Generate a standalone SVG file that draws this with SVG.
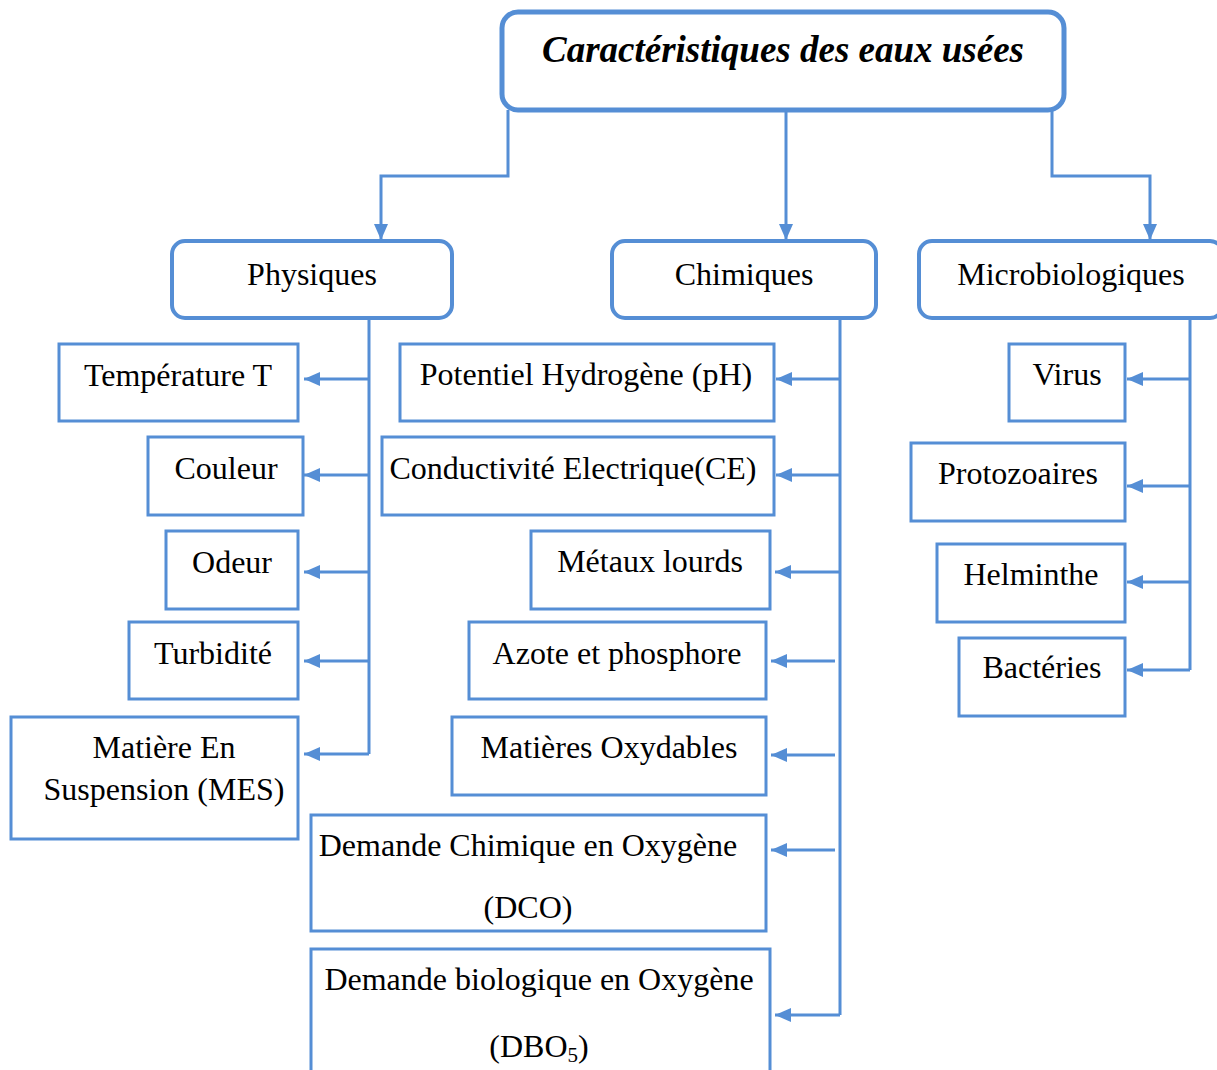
<svg xmlns="http://www.w3.org/2000/svg" width="1217" height="1070" viewBox="0 0 1217 1070">
<style>
.top{fill:#fff;stroke:#558ED5;stroke-width:5}
.cat{fill:#fff;stroke:#558ED5;stroke-width:4}
.item{fill:#fff;stroke:#558ED5;stroke-width:3}
.t{font-family:"Liberation Serif","Times New Roman",serif;font-size:32px;fill:#000;text-anchor:middle}
.title{font-family:"Liberation Serif","Times New Roman",serif;font-size:37px;font-weight:bold;font-style:italic;fill:#000;text-anchor:middle}
.c{fill:none;stroke:#558ED5;stroke-width:3}
.a{fill:none;stroke:#558ED5;stroke-width:3;marker-end:url(#ah)}
</style>
<defs>
<marker id="ah" markerUnits="userSpaceOnUse" markerWidth="16" markerHeight="14" viewBox="0 0 16 14" refX="16" refY="7" orient="auto">
<path d="M0,0 L16,7 L0,14 z" fill="#558ED5"/>
</marker>
</defs>
<rect width="1217" height="1070" fill="#fff"/>
<g id="connectors">
<path class="a" d="M508,110 V176 H381 V240"/>
<path class="a" d="M786,110 V240"/>
<path class="a" d="M1052,110 V176 H1150 V240"/>
<path class="c" d="M369,318 V754"/>
<path class="a" d="M369,379 H304"/>
<path class="a" d="M369,475 H304"/>
<path class="a" d="M369,572 H304"/>
<path class="a" d="M369,661 H304"/>
<path class="a" d="M369,754 H304"/>
<path class="c" d="M840,318 V1015"/>
<path class="a" d="M840,379 H776"/>
<path class="a" d="M840,475 H776"/>
<path class="a" d="M840,572 H775"/>
<path class="a" d="M835,661 H771"/>
<path class="a" d="M835,755 H771"/>
<path class="a" d="M835,850 H771"/>
<path class="a" d="M840,1015 H775"/>
<path class="c" d="M1190,318 V670"/>
<path class="a" d="M1190,379 H1127"/>
<path class="a" d="M1190,486 H1127"/>
<path class="a" d="M1190,582 H1127"/>
<path class="a" d="M1190,670 H1127"/>
</g>
<g id="root"><rect class="top" x="502" y="12" width="562" height="98" rx="16"/><text class="title" x="783" y="62">Caractéristiques des eaux usées</text></g>
<g id="physiques"><rect class="cat" x="172" y="241" width="280" height="77" rx="13"/><text class="t" x="312" y="285">Physiques</text></g>
<g id="chimiques"><rect class="cat" x="612" y="241" width="264" height="77" rx="13"/><text class="t" x="744" y="285">Chimiques</text></g>
<g id="microbiologiques"><rect class="cat" x="919" y="241" width="304" height="77" rx="13"/><text class="t" x="1071" y="285">Microbiologiques</text></g>
<g id="temperature"><rect class="item" x="59" y="344" width="239" height="77"/><text class="t" x="178" y="386">Température T</text></g>
<g id="couleur"><rect class="item" x="148" y="437" width="155" height="78"/><text class="t" x="226" y="479">Couleur</text></g>
<g id="odeur"><rect class="item" x="166" y="531" width="132" height="78"/><text class="t" x="232" y="573">Odeur</text></g>
<g id="turbidite"><rect class="item" x="129" y="622" width="169" height="77"/><text class="t" x="213" y="664">Turbidité</text></g>
<g id="mes"><rect class="item" x="11" y="717" width="287" height="122"/><text class="t" x="164" y="758">Matière En</text><text class="t" x="164" y="800">Suspension (MES)</text></g>
<g id="ph"><rect class="item" x="400" y="344" width="374" height="77"/><text class="t" x="586" y="385">Potentiel Hydrogène (pH)</text></g>
<g id="ce"><rect class="item" x="382" y="437" width="392" height="78"/><text class="t" x="573" y="479">Conductivité Electrique(CE)</text></g>
<g id="metaux"><rect class="item" x="531" y="531" width="239" height="78"/><text class="t" x="650" y="572">Métaux lourds</text></g>
<g id="azote"><rect class="item" x="469" y="622" width="297" height="77"/><text class="t" x="617" y="664">Azote et phosphore</text></g>
<g id="oxydables"><rect class="item" x="452" y="717" width="314" height="78"/><text class="t" x="609" y="758">Matières Oxydables</text></g>
<g id="dco"><rect class="item" x="311" y="815" width="455" height="116"/><text class="t" x="528" y="856">Demande Chimique en Oxygène</text><text class="t" x="528" y="918">(DCO)</text></g>
<g id="dbo5"><rect class="item" x="311" y="949" width="459" height="130"/><text class="t" x="539" y="990">Demande biologique en Oxygène</text><text class="t" x="539" y="1057">(DBO<tspan font-size="21" dy="5">5</tspan><tspan dy="-5">)</tspan></text></g>
<g id="virus"><rect class="item" x="1009" y="344" width="116" height="77"/><text class="t" x="1067" y="385">Virus</text></g>
<g id="protozoaires"><rect class="item" x="911" y="443" width="214" height="78"/><text class="t" x="1018" y="484">Protozoaires</text></g>
<g id="helminthe"><rect class="item" x="937" y="544" width="188" height="78"/><text class="t" x="1031" y="585">Helminthe</text></g>
<g id="bacteries"><rect class="item" x="959" y="638" width="166" height="78"/><text class="t" x="1042" y="678">Bactéries</text></g>
</svg>
